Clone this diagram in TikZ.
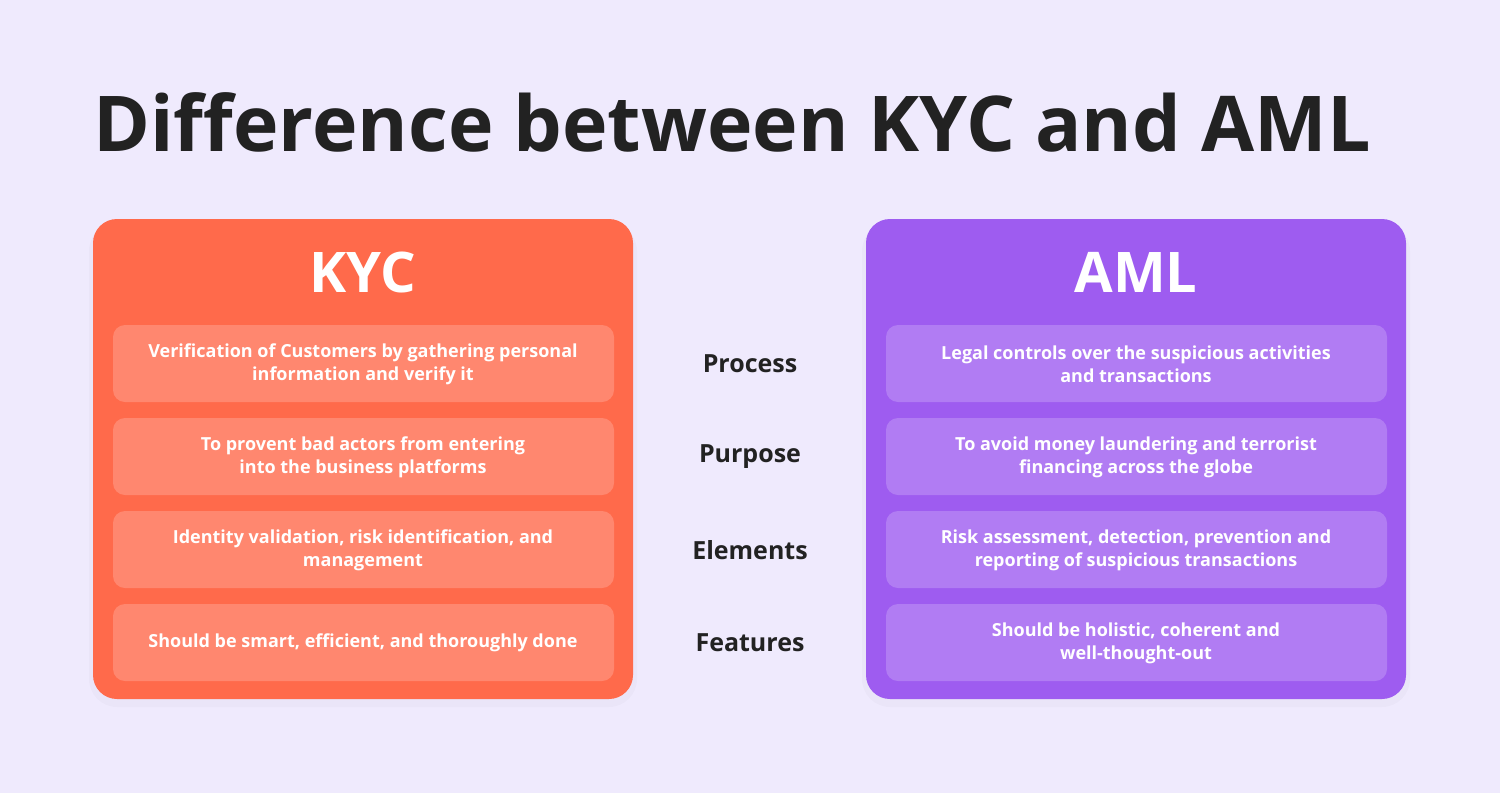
\documentclass[tikz,border=0pt]{standalone}
\usepackage{fontspec}
\setmainfont{Open Sans}
\definecolor{bg}{HTML}{EFEAFD}
\definecolor{kyc}{HTML}{FF6A4B}
\definecolor{aml}{HTML}{9E5CF0}
\definecolor{ink}{HTML}{222222}
\begin{document}
\begin{tikzpicture}[x=0.5pt,y=-0.5pt,
 card/.style={rounded corners=12pt},
 row/.style={fill=white,fill opacity=0.2,rounded corners=6pt},
 rtxt/.style={text=white,font=\fontsize{9}{11.5}\selectfont\bfseries,align=center},
 head/.style={text=white,font=\fontsize{28}{30}\selectfont\bfseries},
 lab/.style={text=ink,font=\fontsize{12.5}{14}\selectfont\bfseries}]
\fill[bg] (0,0) rectangle (1500,793);
\node[text=ink,font=\fontsize{38.5}{42}\selectfont\bfseries,anchor=west,inner sep=0pt] (title) at (93,122) {Difference between KYC and AML};
\foreach \x in {93,866}{\fill[black,opacity=0.02,rounded corners=14pt] (\x-4,223) rectangle (\x+544,707);}
\fill[kyc,card] (93,219) rectangle (633,699);
\fill[aml,card] (866,219) rectangle (1406,699);
\node[head] (kh) at (363,272) {KYC};
\node[head] (ah) at (1136,272) {AML};
\foreach \y in {325,418,511,604}{
 \fill[row] (113,\y) rectangle (614,\y+77);
 \fill[row] (886,\y) rectangle (1387,\y+77);}
\node[rtxt] (k1) at (363,364) {Verification of Customers by gathering personal\\information and verify it};
\node[rtxt] (k2) at (363,457) {To provent bad actors from entering\\into the business platforms};
\node[rtxt] (k3) at (363,550) {Identity validation, risk identification, and\\management};
\node[rtxt] (k4) at (363,643) {Should be smart, efficient, and thoroughly done};
\node[rtxt] (a1) at (1136,364) {Legal controls over the suspicious activities\\and transactions};
\node[rtxt] (a2) at (1136,457) {To avoid money laundering and terrorist\\financing across the globe};
\node[rtxt] (a3) at (1136,550) {Risk assessment, detection, prevention and\\reporting of suspicious transactions};
\node[rtxt] (a4) at (1136,643) {Should be holistic, coherent and\\well-thought-out};
\node[lab] (l1) at (750,364) {Process};
\node[lab] (l2) at (750,457) {Purpose};
\node[lab] (l3) at (750,550) {Elements};
\node[lab] (l4) at (750,643) {Features};
\end{tikzpicture}
\end{document}
